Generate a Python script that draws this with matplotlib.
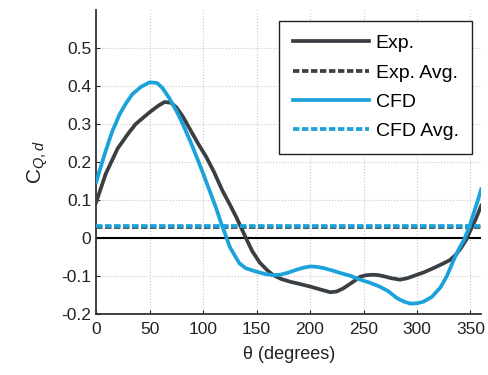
import matplotlib.pyplot as plt

# values
exp_theta = [0, 9, 20, 30, 37, 50, 58, 64, 70, 75, 81, 87, 95, 103, 110, 118, 125, 131, 140,
             146, 153, 160, 165, 173, 181, 190, 200, 210, 219, 225, 231, 240, 247, 253, 259,
             264, 269, 276, 284, 291, 297, 306, 315, 324, 331, 336, 341, 346, 350, 355, 360]
exp_cq = [0.094, 0.169, 0.235, 0.275, 0.30, 0.331, 0.348, 0.358, 0.356, 0.344, 0.32, 0.29,
          0.25, 0.213, 0.175, 0.125, 0.088, 0.055, 0.0, -0.035, -0.065, -0.085, -0.097, -0.108,
          -0.115, -0.121, -0.128, -0.136, -0.143, -0.141, -0.133, -0.116, -0.102, -0.098, -0.097,
          -0.098, -0.101, -0.106, -0.11, -0.106, -0.10, -0.091, -0.08, -0.068, -0.058, -0.045,
          -0.027, -0.005, 0.02, 0.05, 0.085]

cfd_theta = [0, 9, 15, 22, 28, 34, 42, 50, 57, 62, 68, 75, 81, 88, 94, 100, 106, 112, 117,
             121, 125, 130, 134, 140, 150, 158, 165, 172, 180, 186, 193, 200, 206, 212, 220,
             228, 238, 247, 256, 265, 273, 281, 288, 294, 300, 306, 314, 322, 328, 334, 339,
             344, 349, 353, 357, 360]
cfd_cq = [0.147, 0.23, 0.28, 0.326, 0.355, 0.379, 0.398, 0.41, 0.408, 0.395, 0.37, 0.335, 0.30,
          0.255, 0.213, 0.17, 0.125, 0.08, 0.038, 0.008, -0.024, -0.048, -0.067, -0.08, -0.089,
          -0.095, -0.098, -0.097, -0.091, -0.085, -0.079, -0.075, -0.076, -0.079, -0.085,
          -0.092, -0.1, -0.11, -0.118, -0.128, -0.14, -0.158, -0.168, -0.173, -0.172, -0.168,
          -0.155, -0.13, -0.1, -0.06, -0.03, -0.005, 0.03, 0.065, 0.1, 0.128]

exp_avg = 0.028
cfd_avg = 0.032

dark = '#3a3f43'
blue = '#1ca2da'

plt.rcParams['font.family'] = ['Liberation Sans', 'DejaVu Sans']
plt.rcParams['mathtext.fontset'] = 'custom'
plt.rcParams['mathtext.rm'] = 'Liberation Sans'
plt.rcParams['mathtext.it'] = 'Liberation Sans:italic'

fig = plt.figure(figsize=(4.88, 3.75), dpi=100)
ax = fig.add_axes([0.197, 0.163, 0.789, 0.81])

ax.grid(True, color='#c8c8c8', linestyle=':', linewidth=0.8)
ax.axhline(0, color='black', linewidth=1.5, zorder=2)

dash = (0, (1.7, 0.7))
ax.plot(exp_theta, exp_cq, color=dark, linewidth=2.7, label='Exp.', zorder=3)
ax.axhline(exp_avg, color=dark, linewidth=2.7, linestyle=dash, label='Exp. Avg.', zorder=3)
ax.plot(cfd_theta, cfd_cq, color=blue, linewidth=2.7, label='CFD', zorder=4)
ax.axhline(cfd_avg, color=blue, linewidth=2.7, linestyle=dash, label='CFD Avg.', zorder=4)

ax.set_xlim(0, 360)
ax.set_ylim(-0.2, 0.6)
ax.set_xticks([0, 50, 100, 150, 200, 250, 300, 350])
ax.set_yticks([-0.2, -0.1, 0, 0.1, 0.2, 0.3, 0.4, 0.5])
ax.set_yticklabels(['-0.2', '-0.1', '0', '0.1', '0.2', '0.3', '0.4', '0.5'])

ax.spines['top'].set_visible(False)
ax.spines['right'].set_visible(False)
for s in ['left', 'bottom']:
    ax.spines[s].set_color('#333333')
    ax.spines[s].set_linewidth(1.3)
ax.tick_params(direction='in', length=3, labelsize=12.5, colors='#222222')
ax.tick_params(axis='x', pad=6)

ax.set_xlabel('θ (degrees)', fontsize=13, color='#222222', labelpad=6)
ax.set_ylabel('$\\mathrm{C}_{Q,d}$', fontsize=15, color='#222222', labelpad=8)

leg = ax.legend(loc='upper right', bbox_to_anchor=(0.977, 0.964), borderaxespad=0,
                fontsize=14, handlelength=3.9, labelspacing=0.6, fancybox=False,
                framealpha=1, borderpad=0.7, handletextpad=0.36)
leg.get_frame().set_edgecolor('#222222')
leg.get_frame().set_linewidth(1.0)

fig.savefig('out.png', dpi=100)
